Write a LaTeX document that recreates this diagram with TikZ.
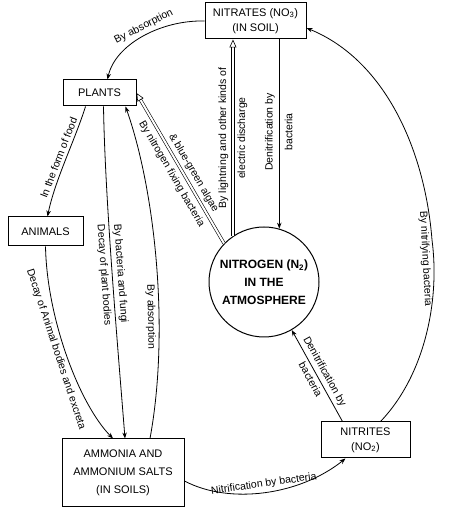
\documentclass[tikz,border=0pt]{standalone}
\usepackage{fontspec}
\setmainfont{Liberation Sans}
\usetikzlibrary{arrows.meta}

\begin{document}
\begin{tikzpicture}[x=1pt, y=1pt,
  box/.style={draw, line width=1pt, align=center, inner sep=0pt, font=\fontsize{11}{15}\selectfont},
  lbl/.style={font=\fontsize{10.5}{12}\selectfont, sloped, inner sep=3pt},
  vlbl/.style={font=\fontsize{10.5}{12}\selectfont, rotate=90, inner sep=0pt},
  dlbl/.style={font=\fontsize{10.5}{12}\selectfont, rotate=-59.8, inner sep=0pt},
  flow/.style={line width=0.8pt, -{Stealth[length=6pt, width=4.5pt]}},
  hollow/.style={double, double distance=2pt, line width=0.6pt, -{Triangle[open, length=8pt, width=7pt]}}]

\useasboundingbox (0,0) rectangle (462,524);

\node[box, minimum width=101pt, minimum height=36pt] (nitrates) at (255.5,503) {NITRATES (NO\textsubscript{3})\\(IN SOIL)};
\node[box, minimum width=73pt, minimum height=26pt] (plants) at (99.5,431) {PLANTS};
\node[box, minimum width=75pt, minimum height=29pt] (animals) at (45.5,292.5) {ANIMALS};
\node[box, minimum width=122pt, minimum height=68pt, font=\fontsize{11}{18}\selectfont] (ammonia) at (123,51) {AMMONIA AND\\AMMONIUM SALTS\\(IN SOILS)};
\node[box, minimum width=89pt, minimum height=36pt] (nitrites) at (365.5,84) {NITRITES\\(NO\textsubscript{2})};
\node[circle, draw, line width=1pt, minimum size=110pt, inner sep=0pt, align=center, font=\fontsize{12}{18}\bfseries\selectfont] (air) at (264,242) {NITROGEN (N\textsubscript{2})\\IN THE\\ATMOSPHERE};

\draw[flow] (nitrates.west) .. controls (160,504) and (115,479) .. ([xshift=8pt]plants.north)
  node[lbl, above, pos=0.45] {By absorption};

\draw[flow] ([xshift=-14pt]plants.south) .. controls (75,384) and (55,344) .. ([xshift=2pt]animals.north)
  node[lbl, above, pos=0.5] {In the form of food};

\draw[flow] (animals.south) .. controls (47,204) and (80,119) .. ([xshift=-10pt]ammonia.north)
  node[lbl, below, pos=0.45] {Decay of Animal bodies and excreta};

\draw[flow] ([xshift=4pt]plants.south) .. controls (105,324) and (118,174) .. ([xshift=2pt]ammonia.north)
  node[lbl, below, pos=0.5] {Decay of plant bodies}
  node[lbl, above, pos=0.5] {By bacteria and fungi};

\draw[flow] ([xshift=27pt]ammonia.north) .. controls (170,194) and (155,334) .. ([xshift=26pt]plants.south)
  node[lbl, below, pos=0.35] {By absorption};

\draw[hollow] (air.136) -- (plants.east);
\node[dlbl] (algae) at (193.5,351) {\& blue-green algae};
\node[dlbl] (fixing) at (171.5,350) {By nitrogen fixing bacteria};

\draw[hollow] (air.124) -- (air.124 |- nitrates.south);
\node[vlbl] (lightning) at (223.5,386) {By lightning and other kinds of};
\node[vlbl] (discharge) at (242.5,386) {electric discharge};

\draw[flow] (air.74 |- nitrates.south) -- (air.74);
\node[vlbl] (denitra) at (270,392) {Denitrification by};
\node[vlbl] (denitrb) at (288.5,392) {bacteria};

\draw[flow] ([xshift=15pt]nitrites.north) .. controls (425,149) and (440,224) .. (432,284)
  node[lbl, below, pos=0.9] {By nitrifying bacteria}
  .. controls (425,374) and (385,464) .. ([yshift=-7pt]nitrates.east);

\draw[flow] ([xshift=-23pt]nitrites.north) -- (air.-60)
  node[lbl, above, pos=0.5] {Denitrification by}
  node[lbl, below, pos=0.5] {bacteria};

\draw[flow] ([yshift=-8pt]ammonia.east) .. controls (230,19) and (300,29) .. ([xshift=-20pt]nitrites.south)
  node[lbl, above, pos=0.5] {Nitrification by bacteria};

\end{tikzpicture}
\end{document}
